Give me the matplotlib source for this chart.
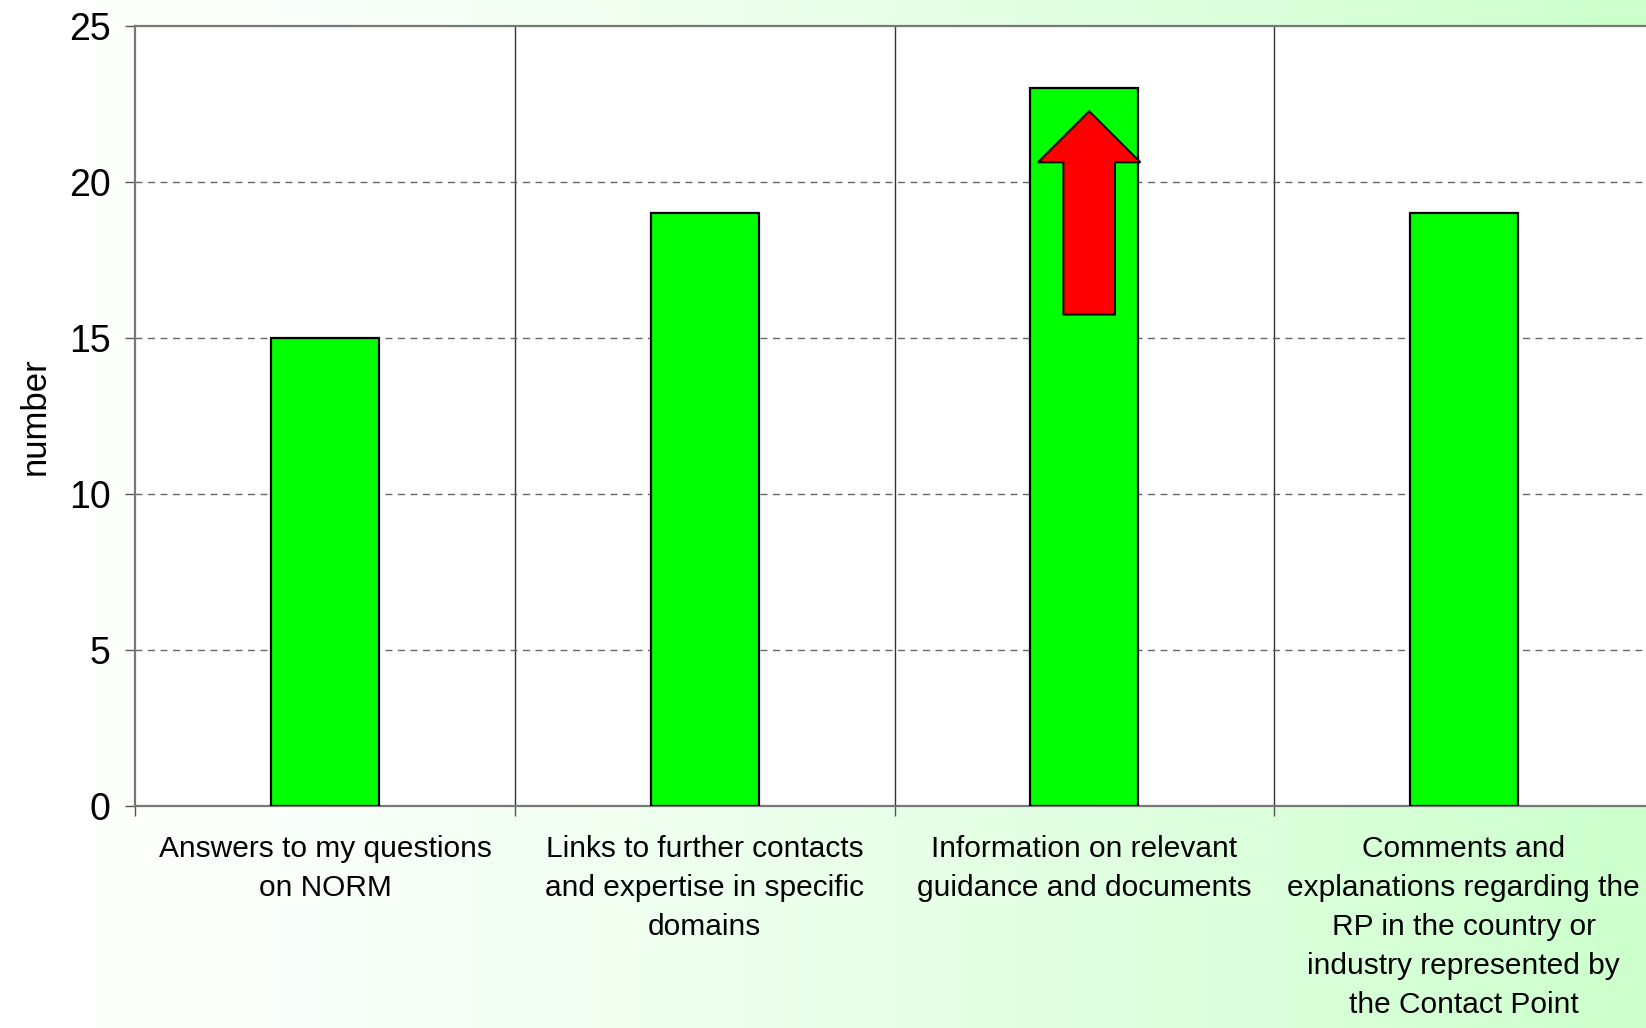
import matplotlib
matplotlib.use('Agg')
import matplotlib.pyplot as plt
import numpy as np
from matplotlib.colors import LinearSegmentedColormap
from matplotlib.patches import Polygon

categories = [
    'Answers to my questions\non NORM',
    'Links to further contacts\nand expertise in specific\ndomains',
    'Information on relevant\nguidance and documents',
    'Comments and\nexplanations regarding the\nRP in the country or\nindustry represented by\nthe Contact Point',
]
values = [15, 19, 23, 19]
y_ticks = [0, 5, 10, 15, 20, 25]
highlight = 2  # bar that gets the red "up" arrow

plt.rcParams['font.family'] = ['Liberation Sans', 'DejaVu Sans']

fig = plt.figure(figsize=(16.46, 10.28), dpi=100)

# background gradient, white on the left to light green on the right
bg = fig.add_axes([0, 0, 1, 1], zorder=-10)
grad = np.linspace(0, 1, 512) ** 1.3
cmap = LinearSegmentedColormap.from_list('bg', ['#ffffff', '#ccffcc'])
bg.imshow(grad[np.newaxis, :], aspect='auto', cmap=cmap, extent=[0, 1, 0, 1])
bg.axis('off')

ax = fig.add_axes([0.0823, 0.216, 0.9223, 0.7587])
ax.set_facecolor('white')

x = np.arange(len(categories))
ax.bar(x, values, width=0.285, color='#00ff00', edgecolor='black', linewidth=1.6, zorder=3)

ax.set_xlim(-0.5, len(categories) - 0.5)
ax.set_ylim(0, 25)
ax.set_yticks(y_ticks)
ax.tick_params(axis='y', labelsize=27, length=7, width=1, color='#555555', pad=11)

ax.set_xticks(x)
ax.set_xticklabels(categories, fontsize=21.5, linespacing=1.5, va='top')
ax.tick_params(axis='x', which='major', length=0, pad=21)
ax.set_xticks(np.arange(-0.5, len(categories), 1.0), minor=True)
ax.tick_params(axis='x', which='minor', length=7, width=1, color='#555555')

for sep in np.arange(0.5, len(categories) - 0.5, 1.0):
    ax.axvline(sep, color='#333333', linewidth=1, zorder=1)
for yv in y_ticks[1:-1]:
    ax.axhline(yv, color='#666666', linewidth=1, linestyle=(0, (5, 4)), zorder=1)

for side in ['left', 'bottom', 'top']:
    ax.spines[side].set_color('#777777')
    ax.spines[side].set_linewidth(1.6)
ax.spines['right'].set_visible(False)

ax.set_ylabel('number', fontsize=25, labelpad=12)

# red arrow pointing up inside the highlighted bar
cx = x[highlight] + 0.013
top = values[highlight]
tip, head_base, bottom = top - 0.73, top - 2.37, top - 7.25
hw, sw = 0.135, 0.068
arrow = Polygon([
    (cx, tip), (cx + hw, head_base), (cx + sw, head_base), (cx + sw, bottom),
    (cx - sw, bottom), (cx - sw, head_base), (cx - hw, head_base)],
    closed=True, facecolor='#ff0000', edgecolor='black', linewidth=1.4, zorder=4)
ax.add_patch(arrow)

fig.savefig('out.png', dpi=100)
